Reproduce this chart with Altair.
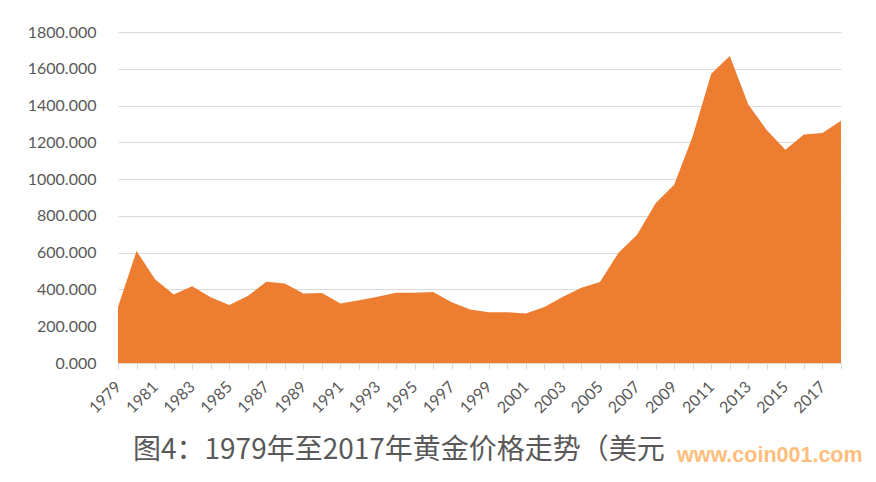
import altair as alt
import pandas as pd

years = list(range(1979, 2019))
prices = [305, 609, 455, 373, 418, 357, 315, 364, 442, 433,
          378, 380, 324, 341, 360, 382, 382, 386, 331, 291,
          276, 276, 269, 305, 360, 409, 440, 600, 697, 869,
          969, 1233, 1573, 1669, 1406, 1266, 1160, 1242, 1251, 1318]
y_ticks = list(range(0, 2000, 200))
title_text = "图4：1979年至2017年黄金价格走势（美元"
watermark = "www.coin001.com"

df = pd.DataFrame({"year": years, "price": prices})

area = alt.Chart(df).mark_area(color="#ED7D31", opacity=1).encode(
    x=alt.X("year:Q",
            scale=alt.Scale(domain=[1979, 2018], nice=False, zero=False),
            axis=alt.Axis(values=years, format="d", title=None,
                          labelExpr="datum.value % 2 == 1 ? datum.label : ''",
                          labelAngle=-45, labelAlign="right", labelBaseline="middle",
                          labelPadding=15, tickSize=6, tickColor="#d9d9d9",
                          domainColor="#d9d9d9", grid=False,
                          labelFont="Lato", labelFontSize=16, labelColor="#595959",
                          labelOverlap=False, labelFlush=False)),
    y=alt.Y("price:Q",
            scale=alt.Scale(domain=[0, 1800], nice=False),
            axis=alt.Axis(values=y_ticks, format=".3f", title=None,
                          domain=False, ticks=False, labelPadding=22,
                          gridColor="#d9d9d9", gridWidth=1,
                          labelFont="Lato", labelFontSize=16, labelColor="#595959")),
)

title = alt.Chart(pd.DataFrame({"t": [title_text]})).mark_text(
    align="left", baseline="alphabetic", font="Noto Sans CJK SC",
    fontSize=28, color="#595959"
).encode(text="t:N", x=alt.value(15), y=alt.value(427))

wm = alt.Chart(pd.DataFrame({"t": [watermark]})).mark_text(
    align="left", baseline="alphabetic", font="Liberation Sans",
    fontWeight="bold", fontSize=21.5, color="#FFBE7D"
).encode(text="t:N", x=alt.value(559), y=alt.value(430))

chart = alt.layer(area, title, wm).properties(
    width=723, height=331,
    autosize=alt.AutoSizeParams(type="none"),
    padding={"left": 110, "top": 24, "right": 25, "bottom": 111},
).configure_view(stroke=None)

chart.save("out.html", embed_options={"renderer": "svg", "actions": False})
